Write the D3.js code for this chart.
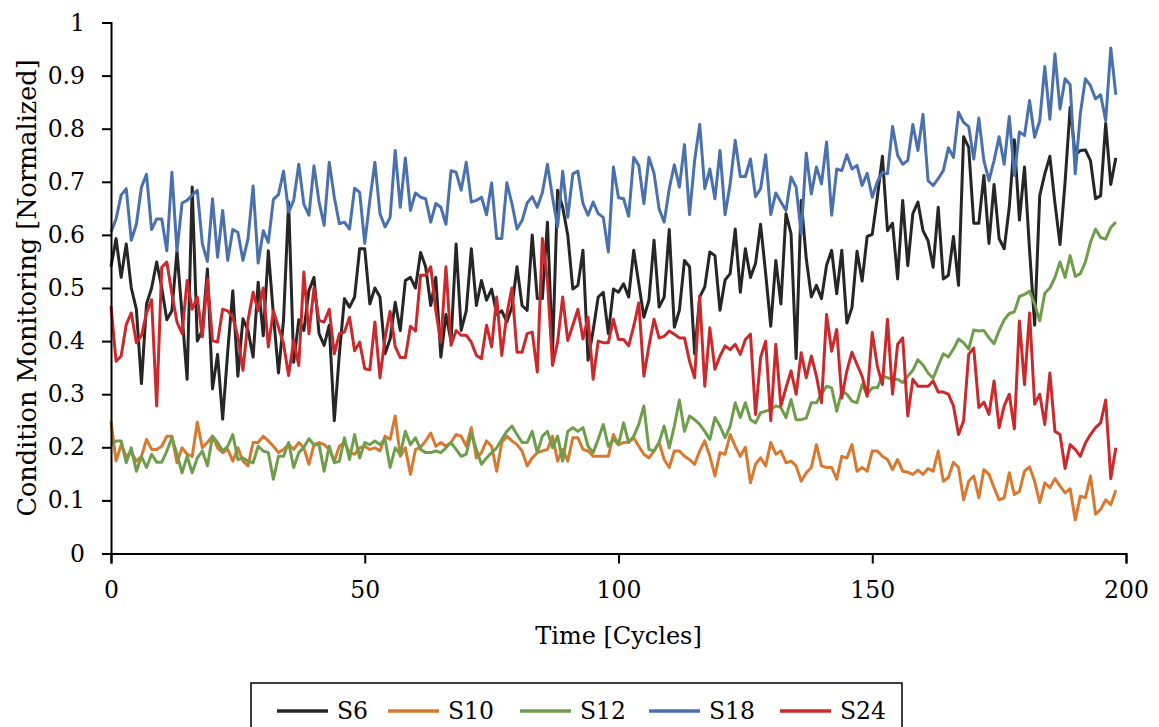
<!DOCTYPE html>
<html>
<head>
<meta charset="utf-8">
<script src="https://cdn.jsdelivr.net/npm/d3@7"></script>
<style>
  html, body { margin: 0; padding: 0; background: #fff; }
  svg { display: block; }
  text { font-family: "DejaVu Serif", "Liberation Serif", serif; fill: #000; }
</style>
</head>
<body>
<svg id="chart" width="1159" height="727"></svg>
<script>
// ---------- data ----------
const seriesNames = ["S6", "S10", "S12", "S18", "S24"];
const seriesColors = ["#262626", "#D9782F", "#6E9E4C", "#4A71AE", "#CB2A2C"];
const xTicks = [0, 50, 100, 150, 200];
const yTicks = [0, 0.1, 0.2, 0.3, 0.4, 0.5, 0.6, 0.7, 0.8, 0.9, 1];
const xLabel = "Time [Cycles]";
const yLabel = "Condition Monitoring [Normalized]";

const S6 = [0.54,0.593,0.52,0.583,0.50,0.46,0.32,0.47,0.50,0.549,0.50,0.44,0.457,0.57,0.45,0.328,0.69,0.40,0.42,0.536,
0.31,0.375,0.253,0.38,0.495,0.334,0.442,0.42,0.37,0.511,0.41,0.57,0.45,0.34,0.44,0.662,0.36,0.44,0.42,0.495,
0.52,0.414,0.392,0.43,0.25,0.376,0.48,0.464,0.483,0.574,0.574,0.47,0.5,0.483,0.376,0.404,0.473,0.42,0.514,0.52,
0.5,0.567,0.54,0.467,0.52,0.37,0.45,0.40,0.583,0.42,0.457,0.574,0.467,0.514,0.477,0.498,0.45,0.457,0.436,0.464,
0.54,0.467,0.458,0.6,0.48,0.48,0.624,0.376,0.684,0.652,0.60,0.498,0.505,0.571,0.364,0.42,0.483,0.492,0.414,0.498,
0.492,0.508,0.483,0.571,0.508,0.445,0.477,0.59,0.464,0.483,0.61,0.426,0.458,0.552,0.54,0.376,0.483,0.502,0.568,0.561,
0.458,0.515,0.527,0.611,0.492,0.574,0.52,0.546,0.62,0.527,0.428,0.552,0.47,0.64,0.602,0.367,0.665,0.555,0.483,0.505,
0.48,0.543,0.571,0.489,0.571,0.434,0.463,0.569,0.513,0.597,0.601,0.671,0.748,0.608,0.622,0.517,0.665,0.542,0.64,0.662,
0.608,0.589,0.539,0.652,0.517,0.524,0.597,0.505,0.785,0.765,0.622,0.622,0.712,0.584,0.695,0.593,0.574,0.652,0.779,0.628,
0.728,0.571,0.43,0.674,0.715,0.748,0.66,0.582,0.70,0.84,0.75,0.759,0.76,0.74,0.668,0.674,0.81,0.695,0.745];

const S10 = [0.249,0.174,0.205,0.183,0.19,0.174,0.183,0.215,0.196,0.196,0.202,0.221,0.221,0.171,0.199,0.187,0.183,0.247,0.199,0.209,
0.221,0.199,0.19,0.196,0.174,0.199,0.174,0.165,0.209,0.209,0.221,0.212,0.202,0.19,0.196,0.205,0.196,0.209,0.199,0.168,
0.205,0.209,0.205,0.196,0.174,0.202,0.209,0.19,0.187,0.199,0.202,0.196,0.199,0.193,0.221,0.215,0.259,0.183,0.199,0.149,
0.196,0.2,0.212,0.227,0.202,0.209,0.202,0.209,0.224,0.221,0.202,0.237,0.18,0.19,0.212,0.202,0.155,0.209,0.221,0.212,
0.205,0.193,0.165,0.18,0.19,0.193,0.196,0.221,0.174,0.196,0.174,0.218,0.218,0.196,0.193,0.183,0.183,0.183,0.183,0.224,
0.205,0.209,0.21,0.218,0.202,0.187,0.18,0.193,0.209,0.177,0.162,0.193,0.193,0.183,0.177,0.168,0.193,0.212,0.183,0.146,
0.19,0.187,0.224,0.202,0.183,0.2,0.133,0.168,0.18,0.165,0.209,0.187,0.193,0.171,0.174,0.165,0.136,0.152,0.162,0.205,
0.165,0.162,0.162,0.14,0.183,0.18,0.205,0.155,0.162,0.155,0.193,0.193,0.183,0.177,0.158,0.177,0.155,0.153,0.149,0.157,
0.149,0.16,0.155,0.193,0.136,0.143,0.172,0.162,0.101,0.136,0.146,0.105,0.158,0.149,0.124,0.101,0.105,0.152,0.111,0.117,
0.155,0.163,0.136,0.096,0.133,0.124,0.141,0.127,0.114,0.122,0.063,0.108,0.105,0.146,0.074,0.083,0.101,0.092,0.119];

const S12 = [0.205,0.212,0.212,0.171,0.199,0.155,0.183,0.162,0.187,0.172,0.172,0.193,0.218,0.187,0.152,0.183,0.152,0.18,0.193,0.165,
0.221,0.209,0.193,0.202,0.224,0.177,0.18,0.174,0.171,0.202,0.193,0.19,0.14,0.183,0.183,0.209,0.162,0.19,0.2,0.216,
0.205,0.205,0.155,0.202,0.171,0.174,0.218,0.177,0.224,0.18,0.209,0.205,0.212,0.205,0.215,0.162,0.199,0.187,0.23,0.205,
0.218,0.196,0.19,0.19,0.193,0.19,0.199,0.209,0.196,0.183,0.187,0.227,0.196,0.168,0.18,0.19,0.199,0.215,0.23,0.24,
0.224,0.209,0.209,0.23,0.19,0.221,0.23,0.199,0.221,0.174,0.23,0.237,0.23,0.237,0.202,0.19,0.215,0.243,0.202,0.215,
0.205,0.246,0.209,0.221,0.243,0.278,0.196,0.193,0.209,0.24,0.199,0.24,0.289,0.23,0.259,0.252,0.243,0.23,0.215,0.256,
0.24,0.218,0.24,0.284,0.256,0.284,0.252,0.246,0.265,0.268,0.271,0.278,0.275,0.256,0.29,0.252,0.252,0.255,0.284,0.284,
0.3,0.315,0.312,0.268,0.306,0.3,0.287,0.284,0.318,0.3,0.312,0.312,0.334,0.331,0.328,0.328,0.322,0.334,0.345,0.365,
0.355,0.34,0.33,0.354,0.376,0.37,0.385,0.404,0.397,0.385,0.421,0.419,0.42,0.406,0.395,0.42,0.44,0.452,0.455,0.484,
0.488,0.494,0.47,0.438,0.49,0.5,0.52,0.549,0.52,0.561,0.522,0.527,0.549,0.586,0.611,0.595,0.592,0.614,0.624];

const S18 = [0.605,0.63,0.675,0.687,0.59,0.62,0.69,0.714,0.61,0.63,0.63,0.57,0.718,0.57,0.66,0.665,0.675,0.684,0.583,0.55,
0.668,0.558,0.646,0.552,0.61,0.605,0.552,0.593,0.692,0.547,0.608,0.586,0.667,0.676,0.72,0.643,0.665,0.733,0.658,0.637,
0.73,0.662,0.618,0.737,0.671,0.621,0.624,0.611,0.688,0.68,0.584,0.665,0.737,0.64,0.615,0.633,0.759,0.652,0.745,0.646,
0.679,0.671,0.668,0.624,0.659,0.652,0.62,0.721,0.718,0.684,0.737,0.662,0.665,0.671,0.638,0.698,0.593,0.593,0.698,0.659,
0.611,0.627,0.66,0.672,0.652,0.68,0.733,0.671,0.615,0.72,0.633,0.715,0.72,0.659,0.637,0.662,0.64,0.633,0.568,0.728,
0.67,0.668,0.635,0.746,0.731,0.659,0.746,0.716,0.649,0.624,0.687,0.732,0.69,0.77,0.638,0.74,0.808,0.687,0.724,0.668,
0.759,0.638,0.696,0.778,0.71,0.71,0.743,0.672,0.687,0.751,0.638,0.679,0.662,0.646,0.709,0.69,0.602,0.754,0.677,0.728,
0.696,0.775,0.637,0.724,0.721,0.751,0.724,0.731,0.693,0.716,0.671,0.70,0.718,0.715,0.804,0.75,0.733,0.74,0.808,0.759,
0.827,0.702,0.693,0.706,0.721,0.764,0.746,0.831,0.812,0.804,0.743,0.82,0.74,0.702,0.74,0.785,0.733,0.823,0.712,0.794,
0.787,0.853,0.784,0.815,0.917,0.818,0.941,0.837,0.894,0.883,0.715,0.828,0.894,0.881,0.856,0.864,0.815,0.952,0.864];

const S24 = [0.466,0.362,0.372,0.431,0.453,0.397,0.41,0.453,0.478,0.278,0.539,0.549,0.489,0.436,0.414,0.514,0.46,0.483,0.408,0.517,
0.401,0.398,0.46,0.457,0.445,0.408,0.345,0.439,0.492,0.457,0.5,0.389,0.457,0.426,0.395,0.335,0.401,0.354,0.53,0.414,
0.5,0.439,0.436,0.46,0.376,0.414,0.417,0.445,0.382,0.398,0.348,0.346,0.436,0.331,0.406,0.456,0.39,0.369,0.369,0.428,
0.419,0.524,0.524,0.54,0.457,0.398,0.54,0.392,0.42,0.411,0.411,0.398,0.373,0.367,0.43,0.389,0.483,0.373,0.451,0.5,
0.379,0.379,0.414,0.417,0.342,0.593,0.514,0.354,0.398,0.483,0.401,0.43,0.46,0.404,0.445,0.328,0.4,0.397,0.397,0.441,
0.403,0.403,0.391,0.428,0.472,0.334,0.391,0.441,0.406,0.409,0.419,0.413,0.406,0.406,0.362,0.331,0.485,0.315,0.425,0.347,
0.372,0.391,0.384,0.394,0.375,0.403,0.413,0.262,0.369,0.4,0.25,0.394,0.278,0.312,0.344,0.3,0.378,0.331,0.372,0.334,
0.284,0.45,0.381,0.422,0.293,0.344,0.379,0.356,0.334,0.296,0.416,0.353,0.318,0.441,0.3,0.394,0.406,0.259,0.328,0.315,
0.315,0.315,0.325,0.304,0.304,0.3,0.278,0.224,0.25,0.375,0.387,0.275,0.285,0.262,0.325,0.237,0.278,0.3,0.235,0.438,
0.318,0.453,0.281,0.3,0.243,0.34,0.23,0.224,0.16,0.205,0.196,0.183,0.208,0.224,0.237,0.246,0.289,0.141,0.199];

const seriesValues = [S6, S10, S12, S18, S24];

// ---------- layout ----------
const svg = d3.select("#chart");
const plotLeft = 111, plotRight = 1126, plotTop = 22.5, plotBottom = 553.5;
const x = d3.scaleLinear().domain([0, 200]).range([plotLeft, plotRight]);
const y = d3.scaleLinear().domain([0, 1]).range([plotBottom, plotTop]);
const fontSize = 23.5;

// lines
const line = d3.line().x((d, i) => x(i)).y(d => y(d));
seriesValues.forEach((vals, k) => {
  svg.append("path")
    .datum(vals)
    .attr("fill", "none")
    .attr("stroke", seriesColors[k])
    .attr("stroke-width", 3)
    .attr("stroke-linejoin", "round")
    .attr("d", line);
});

// axes
const yAxis = d3.axisLeft(y).tickValues(yTicks).tickSize(9).tickPadding(17)
  .tickFormat(d => (d === 0 ? "0" : d === 1 ? "1" : d3.format(".1f")(d)));
const gy = svg.append("g").attr("transform", `translate(${plotLeft},0)`).call(yAxis);
gy.select(".domain").attr("stroke", "#000").attr("stroke-width", 2);
gy.selectAll(".tick line").attr("stroke", "#000").attr("stroke-width", 2);
gy.selectAll(".tick text").style("font-size", fontSize + "px").style("font-family", "DejaVu Serif");

const xAxis = d3.axisBottom(x).tickValues(xTicks).tickSize(10).tickPadding(18)
  .tickFormat(d3.format("d"));
const gx = svg.append("g").attr("transform", `translate(0,${plotBottom})`).call(xAxis);
gx.select(".domain").attr("stroke", "#000").attr("stroke-width", 2);
gx.selectAll(".tick line").attr("stroke", "#000").attr("stroke-width", 2);
gx.selectAll(".tick text").style("font-size", fontSize + "px").style("font-family", "DejaVu Serif");

// axis titles
svg.append("text")
  .attr("x", (plotLeft + plotRight) / 2).attr("y", 644)
  .attr("text-anchor", "middle")
  .style("font-size", "24px")
  .text(xLabel);

svg.append("text")
  .attr("transform", `translate(36,${288}) rotate(-90)`)
  .attr("text-anchor", "middle")
  .style("font-size", "25.5px")
  .text(yLabel);

// legend
const legend = svg.append("g");
legend.append("rect")
  .attr("x", 251).attr("y", 683).attr("width", 651).attr("height", 60)
  .attr("fill", "#fff").attr("stroke", "#000").attr("stroke-width", 1.5);
const legendX = [277, 388, 520, 649, 780];
seriesNames.forEach((name, k) => {
  legend.append("line")
    .attr("x1", legendX[k]).attr("x2", legendX[k] + 51)
    .attr("y1", 711).attr("y2", 711)
    .attr("stroke", seriesColors[k]).attr("stroke-width", 3.5);
  legend.append("text")
    .attr("x", legendX[k] + 60).attr("y", 711).attr("dy", "0.36em")
    .style("font-size", fontSize + "px")
    .text(name);
});
</script>
</body>
</html>
